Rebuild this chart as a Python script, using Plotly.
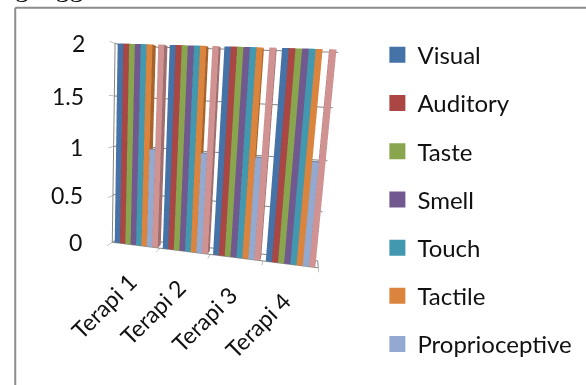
import plotly.graph_objects as go

categories = ["Terapi 1", "Terapi 2", "Terapi 3", "Terapi 4"]
series_names = ["Visual", "Auditory", "Taste", "Smell", "Touch", "Tactile", "Proprioceptive", ""]
visual = [2, 2, 2, 2]
auditory = [2, 2, 2, 2]
taste = [2, 2, 2, 2]
smell = [2, 2, 2, 2]
touch = [2, 2, 2, 2]
tactile = [2, 2, 2, 2]
proprioceptive = [1, 1, 1, 1]
extra = [2, 2, 2, 2]
all_series = [visual, auditory, taste, smell, touch, tactile, proprioceptive, extra]
colors = ["#4572A7", "#AA4643", "#89A54E", "#71588F", "#4198AF", "#DB843D", "#93A9CF", "#D19392"]
yticks = [0, 0.5, 1, 1.5, 2]
ylabels = ["0", "0.5", "1", "1.5", "2"]
category_bounds = [-0.5, 0.5, 1.5, 2.5, 3.5]

BAR_W = 0.112
DEPTH = 0.25
tri_i = [0, 0, 4, 4, 0, 0, 1, 1, 2, 2, 3, 3]
tri_j = [1, 2, 5, 6, 1, 5, 2, 6, 3, 7, 0, 4]
tri_k = [2, 3, 6, 7, 5, 4, 6, 5, 7, 6, 4, 7]

fig = go.Figure()
for s, (name, vals, col) in enumerate(zip(series_names, all_series, colors)):
    xs, ys, zs, I, J, K = [], [], [], [], [], []
    for c, v in enumerate(vals):
        x0 = c + (s - 4) * BAR_W
        x1 = x0 + BAR_W
        n = len(xs)
        xs += [x0, x1, x1, x0, x0, x1, x1, x0]
        ys += [0, 0, DEPTH, DEPTH, 0, 0, DEPTH, DEPTH]
        zs += [0, 0, 0, 0, v, v, v, v]
        I += [n + a for a in tri_i]
        J += [n + a for a in tri_j]
        K += [n + a for a in tri_k]
    fig.add_trace(go.Mesh3d(
        x=xs, y=ys, z=zs, i=I, j=J, k=K, color=col, name=name or " ",
        flatshading=True, showlegend=False,
        lighting=dict(ambient=0.75, diffuse=0.3, specular=0, roughness=1, fresnel=0),
        lightposition=dict(x=-300, y=-1000, z=100),
    ))
    if name:
        fig.add_trace(go.Scatter(
            x=[None], y=[None], mode="markers", name=name, legendgroup=f"g{s}",
            marker=dict(symbol="square", size=16, color=col),
        ))

label_font = dict(family="Lato", size=23, color="#111")
scene_labels = [dict(x=c, y=0, z=0, text=t, showarrow=False, textangle=-45,
                     xshift=-32, yshift=-61, font=label_font)
                for c, t in enumerate(categories)]
scene_labels += [dict(x=-0.5, y=0, z=v, text=t, showarrow=False, xanchor="right",
                      xshift=-28, font=label_font)
                 for v, t in zip(yticks, ylabels)]

axis_common = dict(showbackground=False, showspikes=False, title=dict(text=""),
                   linecolor="#868686", linewidth=2, tickcolor="#868686", ticks="outside",
                   ticklen=6, showticklabels=False, zeroline=False)
fig.update_layout(
    width=586, height=385, margin=dict(l=0, r=0, t=0, b=0),
    paper_bgcolor="white", plot_bgcolor="rgba(0,0,0,0)", font=dict(family="Lato", color="#111"),
    xaxis=dict(visible=False), yaxis=dict(visible=False),
    scene=dict(
        dragmode="orbit",
        domain=dict(x=[0.044, 0.694], y=[0.08, 1.0]),
        aspectmode="manual", aspectratio=dict(x=1.08, y=0.1, z=1.03),
        camera=dict(eye=dict(x=0.42, y=-2.1, z=0.24), up=dict(x=-0.055, y=0, z=1),
                    center=dict(x=0, y=0, z=-0.12), projection=dict(type="perspective")),
        xaxis=dict(axis_common, range=[-0.5, 3.5], tickvals=category_bounds, showgrid=False),
        yaxis=dict(axis_common, range=[0, 0.5], ticks="", showgrid=False),
        zaxis=dict(axis_common, range=[0, 2], tickvals=yticks, showgrid=True, gridcolor="#868686"),
        annotations=scene_labels,
    ),
    legend=dict(x=0.644, y=0.915, xanchor="left", yanchor="top", tracegroupgap=14,
                font=dict(family="Lato", size=24, color="#111"), bgcolor="rgba(0,0,0,0)"),
    shapes=[
        dict(type="line", xref="paper", yref="paper", x0=0.026, x1=0.026, y0=0, y1=0.98,
             line=dict(color="#8c8c8c", width=2)),
        dict(type="line", xref="paper", yref="paper", x0=0.026, x1=1, y0=0.98, y1=0.98,
             line=dict(color="#8c8c8c", width=2)),
    ],
    annotations=[dict(text="gangguan, dan", xref="paper", yref="paper", x=0.022, y=1,
                      xanchor="left", yanchor="bottom", yshift=-4, showarrow=False,
                      font=dict(family="Liberation Serif", size=28, color="#111"))],
)
fig.write_html("out.html", post_script="document.body.style.margin='0';",
               config=dict(displayModeBar=False))
